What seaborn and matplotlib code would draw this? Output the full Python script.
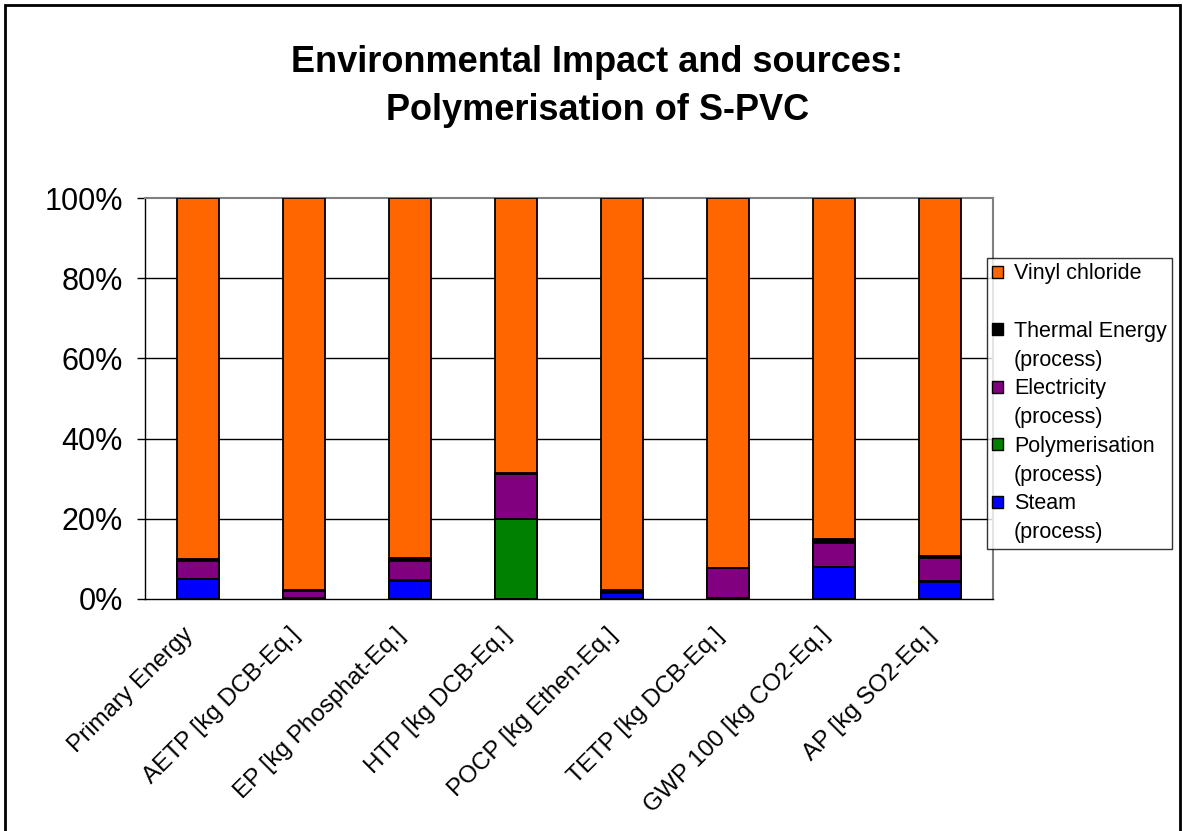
import numpy as np
import pandas as pd
import matplotlib
matplotlib.use("Agg")
import matplotlib.pyplot as plt
import seaborn as sns
from matplotlib.patches import Rectangle, Patch

# Shares (%)
categories = ["Primary Energy", "AETP [kg DCB-Eq.]", "EP [kg Phosphat-Eq.]", "HTP [kg DCB-Eq.]",
              "POCP [kg Ethen-Eq.]", "TETP [kg DCB-Eq.]", "GWP 100 [kg CO2-Eq.]", "AP [kg SO2-Eq.]"]
steam = [5.0, 0.3, 4.5, 0.0, 1.6, 0.3, 8.0, 4.3]
polymerisation = [0.0, 0.0, 0.3, 20.0, 0.0, 0.0, 0.0, 0.3]
electricity = [4.5, 1.7, 4.8, 11.2, 0.1, 7.4, 6.0, 5.5]
thermal = [0.5, 0.2, 0.7, 0.1, 0.5, 0.1, 1.0, 0.7]
vinyl_chloride = [90.0, 97.8, 89.7, 68.7, 97.8, 92.2, 85.0, 89.2]

series_names = ["Steam", "Polymerisation", "Electricity", "Thermal Energy", "Vinyl chloride"]
series_colors = ["#0000FF", "#008000", "#800080", "#000000", "#FF6600"]

df = pd.DataFrame({
    "category": categories,
    "steam": steam,
    "polymerisation": polymerisation,
    "electricity": electricity,
    "thermal": thermal,
    "vinyl": vinyl_chloride,
})
layers = ["steam", "polymerisation", "electricity", "thermal", "vinyl"]
cum = df[layers].cumsum(axis=1)

sns.set_style("white")
plt.rcParams["font.family"] = ["Liberation Sans", "DejaVu Sans"]
plt.rcParams["text.color"] = "black"
plt.rcParams["xtick.color"] = "black"
plt.rcParams["ytick.color"] = "black"

fig = plt.figure(figsize=(11.83, 8.31), dpi=100)
ax = fig.add_axes([145 / 1183, 1 - 599 / 831, (993 - 145) / 1183, (599 - 198) / 831])

# draw from top of stack downwards so lower layers cover upper ones
for layer, color in reversed(list(zip(layers, series_colors))):
    sns.barplot(x=df["category"], y=cum[layer], color=color, width=0.4,
                edgecolor="black", linewidth=1.3, saturation=1, ax=ax, zorder=3)

ax.set_ylim(0, 100)
ax.set_xlim(-0.5, len(categories) - 0.5)
ax.set_yticks(np.arange(0, 101, 20))
ax.set_yticklabels([f"{v}%" for v in range(0, 101, 20)], fontsize=22)
ax.set_xticks(range(len(categories)))
ax.set_xticklabels(categories, rotation=45, ha="right", va="bottom", rotation_mode="anchor",
                   fontsize=17.5)
ax.set_xticks(np.arange(-0.5, len(categories), 1), minor=True)
ax.tick_params(axis="x", which="major", length=0, pad=29)
ax.tick_params(axis="x", which="minor", length=4.5, width=1, color="black", direction="out")
ax.tick_params(axis="y", length=6, width=1, color="black", direction="out", left=True, pad=10)
ax.set_xlabel("")
ax.set_ylabel("")

for y in [20, 40, 60, 80]:
    ax.axhline(y, color="black", linewidth=1, zorder=1)

for side in ["top", "right"]:
    ax.spines[side].set_color("#808080")
    ax.spines[side].set_linewidth(1.5)
for side in ["left", "bottom"]:
    ax.spines[side].set_color("black")
    ax.spines[side].set_linewidth(1)

fig.text(0.505, 1 - 62 / 831, "Environmental Impact and sources:", ha="center", va="center",
         fontsize=26, fontweight="bold")
fig.text(0.505, 1 - 110 / 831, "Polymerisation of S-PVC", ha="center", va="center",
         fontsize=26, fontweight="bold")

# legend rows: first line carries the swatch, "(process)" goes on its own row
blank = Patch(facecolor="none", edgecolor="none")
handles = [Patch(facecolor=series_colors[4], edgecolor="black"), blank]
labels = [series_names[4], " "]
for i in [3, 2, 1, 0]:
    handles += [Patch(facecolor=series_colors[i], edgecolor="black"), blank]
    labels += [series_names[i], "(process)"]
leg = fig.legend(handles=handles, labels=labels, loc="upper left",
                 bbox_to_anchor=(987 / 1183, 1 - 258 / 831),
                 fontsize=15.5, frameon=True, fancybox=False, edgecolor="black",
                 handlelength=0.5, handleheight=0.5, handletextpad=0.5, labelspacing=0.36,
                 borderpad=0.25, borderaxespad=0)
leg.get_frame().set_linewidth(1)

fig.patches.append(Rectangle((5 / 1183, -0.01), 1175 / 1183, 1 - 5 / 831 + 0.01,
                             transform=fig.transFigure, fill=False, edgecolor="black",
                             linewidth=2))

fig.savefig("out.png", dpi=100)
